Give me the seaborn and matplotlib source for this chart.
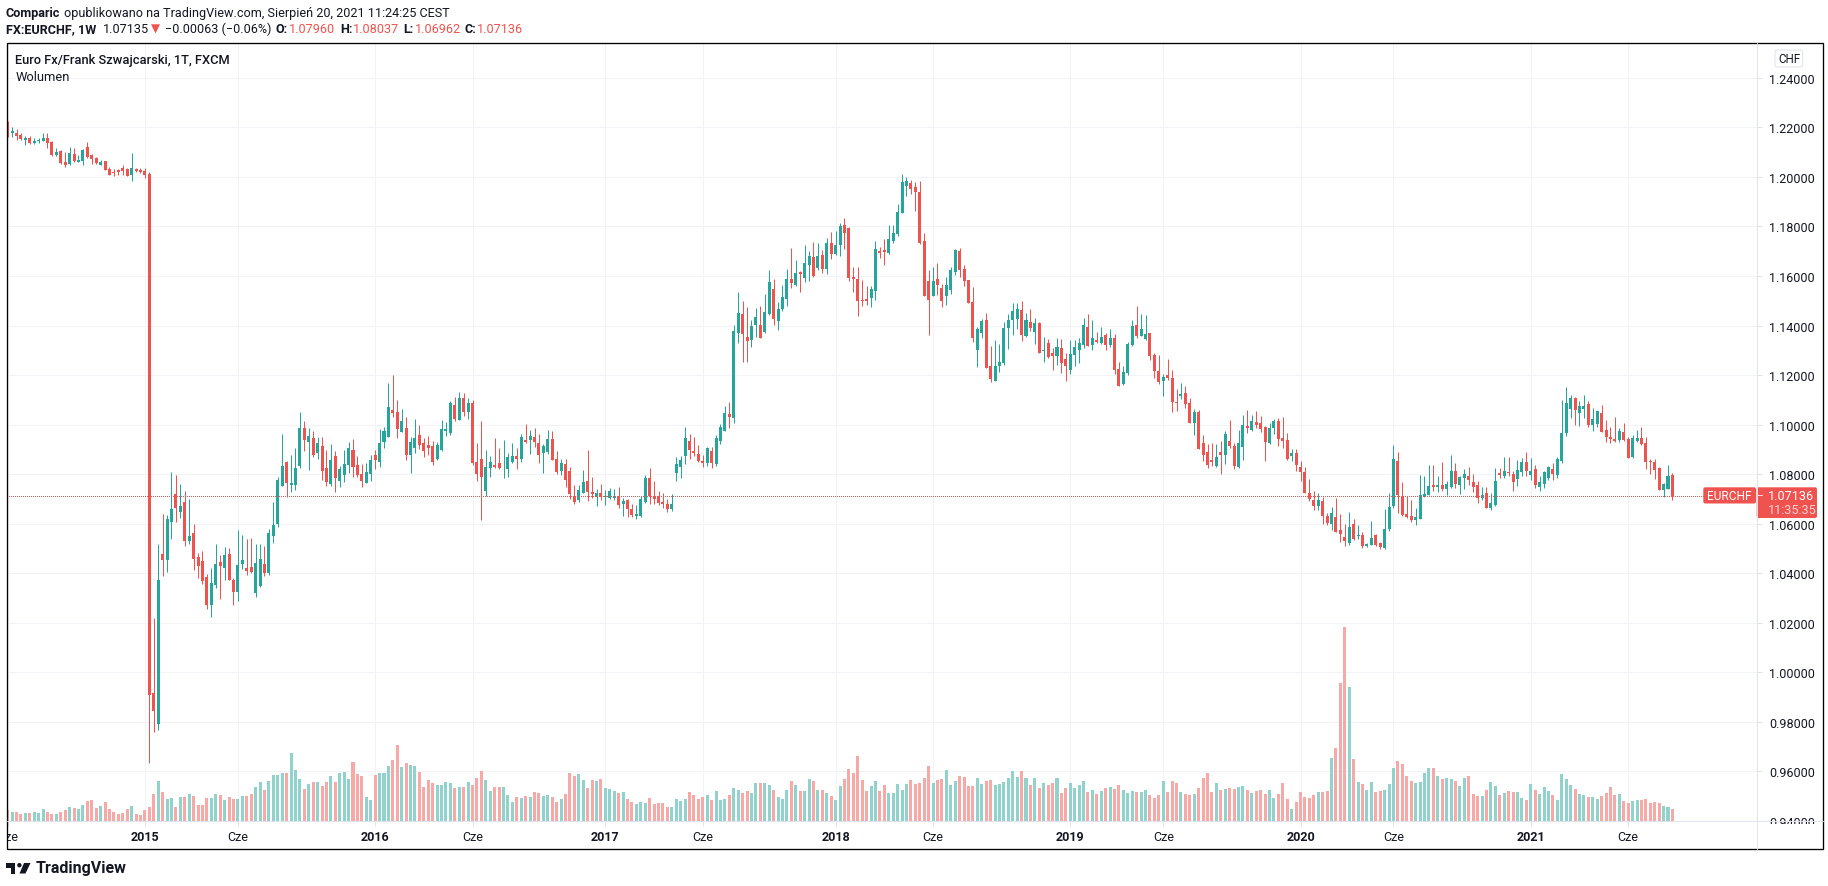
import matplotlib
matplotlib.use("Agg")
import matplotlib.pyplot as plt
from matplotlib.lines import Line2D
from matplotlib.patches import Circle, FancyBboxPatch, Polygon
from matplotlib.transforms import Bbox, IdentityTransform
import pandas as pd
import seaborn as sns

# --- Weekly EURCHF candles ---
opens = [
    1.2200, 1.2177, 1.2177, 1.2169, 1.2148, 1.2156, 1.2136, 1.2144, 1.2144, 1.2156,
    1.2140, 1.2087, 1.2103, 1.2061, 1.2050, 1.2091, 1.2059, 1.2063, 1.2120, 1.2087,
    1.2075, 1.2046, 1.2063, 1.2030, 1.2018, 1.2026, 1.2034, 1.2030, 1.2006, 1.2030,
    1.2026, 1.2022,
    1.2012, 0.9916, 0.9790, 1.0479, 1.0455, 1.0606, 1.0720, 1.0646, 1.0687, 1.0532,
    1.0561, 1.0467, 1.0451, 1.0385, 1.0271, 1.0353, 1.0447, 1.0422, 1.0479, 1.0373,
    1.0324, 1.0438, 1.0422, 1.0426, 1.0320, 1.0349, 1.0438, 1.0402, 1.0549, 1.0598,
    1.0753, 1.0850, 1.0757, 1.0757, 1.0834, 1.0985, 1.0928, 1.0944, 1.0887, 1.0912,
    1.0826, 1.0761, 1.0875, 1.0773, 1.0797, 1.0838, 1.0899, 1.0838, 1.0802, 1.0765,
    1.0802, 1.0879, 1.0850, 1.0928, 1.0948, 1.1059, 1.1050, 1.0969, 1.0985, 1.0879,
    1.0904, 1.0957, 1.0924, 1.0916, 1.0912, 1.0863, 1.0899, 1.0973, 1.0965,
    1.1079, 1.1018, 1.1108, 1.1050, 1.1087, 1.0850, 1.0863, 1.0732, 1.0826, 1.0838,
    1.0846, 1.0827, 1.0822, 1.0850, 1.0875, 1.0863, 1.0936, 1.0936, 1.0948, 1.0924,
    1.0887, 1.0891, 1.0940, 1.0863, 1.0814, 1.0842, 1.0814, 1.0712, 1.0695, 1.0724,
    1.0773, 1.0728, 1.0708, 1.0724, 1.0708, 1.0704, 1.0704, 1.0712, 1.0679, 1.0695,
    1.0659, 1.0630, 1.0630, 1.0687, 1.0785, 1.0708, 1.0712, 1.0687, 1.0679, 1.0659,
    1.0806, 1.0830, 1.0875, 1.0932, 1.0895, 1.0883, 1.0854, 1.0846, 1.0895, 1.0842,
    1.0932, 1.0973, 1.1042, 1.1026,
    1.1369, 1.1446, 1.1353, 1.1340, 1.1402, 1.1402, 1.1373, 1.1446, 1.1548, 1.1418,
    1.1467, 1.1508, 1.1589, 1.1565, 1.1614, 1.1593, 1.1646, 1.1675, 1.1634, 1.1683,
    1.1630, 1.1732, 1.1687, 1.1724, 1.1806, 1.1793, 1.1597, 1.1589, 1.1504, 1.1508,
    1.1512, 1.1540, 1.1700, 1.1704, 1.1691, 1.1740, 1.1769, 1.1854, 1.1965, 1.1977,
    1.1961, 1.1940, 1.1740, 1.1581, 1.1520, 1.1589, 1.1553, 1.1520, 1.1544, 1.1614,
    1.1700, 1.1630, 1.1585, 1.1495, 1.1300, 1.1369, 1.1422, 1.1238, 1.1177, 1.1236,
    1.1247, 1.1389, 1.1422, 1.1426, 1.1463, 1.1357, 1.1414, 1.1373, 1.1410, 1.1296,
    1.1328,
    1.1287, 1.1275, 1.1308, 1.1263, 1.1222, 1.1279, 1.1303, 1.1320, 1.1393, 1.1320,
    1.1340, 1.1328, 1.1361, 1.1320, 1.1348, 1.1226, 1.1165, 1.1210, 1.1320, 1.1401,
    1.1356, 1.1344, 1.1369, 1.1279, 1.1218, 1.1177, 1.1201, 1.1189, 1.1091, 1.1116,
    1.1128, 1.1087, 1.1006, 1.1050, 1.0924, 1.0891, 1.0859, 1.0834, 1.0891, 1.0879,
    1.0932, 1.0912, 1.0830, 1.0908, 1.0993, 1.0977, 1.1010, 1.1006, 1.0989, 1.0924,
    1.0985, 1.1014, 1.0944, 1.0936, 1.0875, 1.0887, 1.0830, 1.0810, 1.0724, 1.0696,
    1.0671, 1.0691, 1.0630, 1.0598, 1.0626, 1.0573, 1.0545, 1.0524,
    1.0597, 1.0549, 1.0553, 1.0508, 1.0516, 1.0553, 1.0524, 1.0500, 1.0577, 1.0671,
    1.0855, 1.0708, 1.0638, 1.0630, 1.0614, 1.0618, 1.0708, 1.0716, 1.0757, 1.0748,
    1.0757, 1.0740, 1.0748, 1.0814, 1.0757, 1.0785, 1.0793, 1.0769, 1.0757, 1.0704,
    1.0724, 1.0663, 1.0675, 1.0806, 1.0793, 1.0810, 1.0802, 1.0781, 1.0810, 1.0851,
    1.0798, 1.0822, 1.0748, 1.0761, 1.0785, 1.0822, 1.0797, 1.0855, 1.0965, 1.1063,
    1.1108, 1.1046, 1.1063, 1.1083, 1.0997, 1.1001, 1.1046, 1.0977, 1.0948, 1.0940,
    1.0936, 1.0969, 1.0940, 1.0871, 1.0932, 1.0944, 1.0924, 1.0854, 1.0850, 1.0826,
    1.0736, 1.0740, 1.0796,
]
highs = [
    1.2226, 1.2201, 1.2193, 1.2177, 1.2165, 1.2165, 1.2156, 1.2156, 1.2177, 1.2177,
    1.2144, 1.2116, 1.2107, 1.2099, 1.2120, 1.2116, 1.2087, 1.2112, 1.2140, 1.2091,
    1.2079, 1.2067, 1.2063, 1.2038, 1.2030, 1.2030, 1.2046, 1.2034, 1.2095, 1.2034,
    1.2034, 1.2034,
    1.2018, 1.0219, 1.0520, 1.0638, 1.0634, 1.0810, 1.0797, 1.0761, 1.0732, 1.0700,
    1.0598, 1.0483, 1.0491, 1.0398, 1.0422, 1.0520, 1.0475, 1.0504, 1.0500, 1.0381,
    1.0573, 1.0553, 1.0540, 1.0544, 1.0520, 1.0520, 1.0508, 1.0577, 1.0687, 1.0789,
    1.0961, 1.0855, 1.0879, 1.0904, 1.1050, 1.1014, 1.0985, 1.0973, 1.0948, 1.0948,
    1.0899, 1.0920, 1.0895, 1.0834, 1.0899, 1.0928, 1.0940, 1.0875, 1.0842, 1.0846,
    1.0879, 1.0899, 1.0981, 1.0989, 1.1169, 1.1200, 1.1099, 1.1063, 1.1030, 1.0948,
    1.1022, 1.0997, 1.0944, 1.0952, 1.0932, 1.0928, 1.1018, 1.1010, 1.1094,
    1.1112, 1.1132, 1.1128, 1.1108, 1.1099, 1.0924, 1.1014, 1.0899, 1.0875, 1.0944,
    1.0904, 1.0936, 1.0887, 1.0924, 1.0904, 1.0961, 1.1001, 1.0977, 1.0985, 1.0961,
    1.0920, 1.0977, 1.0973, 1.0895, 1.0863, 1.0863, 1.0830, 1.0757, 1.0757, 1.0818,
    1.0899, 1.0789, 1.0741, 1.0761, 1.0736, 1.0744, 1.0740, 1.0748, 1.0704, 1.0700,
    1.0679, 1.0675, 1.0712, 1.0797, 1.0826, 1.0773, 1.0732, 1.0724, 1.0700, 1.0720,
    1.0871, 1.0875, 1.0989, 1.0961, 1.0948, 1.0916, 1.0879, 1.0908, 1.0908, 1.0957,
    1.1001, 1.1075, 1.1091, 1.1402,
    1.1536, 1.1500, 1.1475, 1.1422, 1.1471, 1.1479, 1.1528, 1.1622, 1.1589, 1.1495,
    1.1565, 1.1630, 1.1712, 1.1663, 1.1618, 1.1724, 1.1700, 1.1736, 1.1732, 1.1704,
    1.1752, 1.1777, 1.1781, 1.1814, 1.1834, 1.1797, 1.1638, 1.1638, 1.1585, 1.1561,
    1.1561, 1.1740, 1.1716, 1.1748, 1.1806, 1.1806, 1.1891, 1.2010, 1.2001, 1.1989,
    1.1981, 1.1985, 1.1773, 1.1626, 1.1638, 1.1654, 1.1569, 1.1597, 1.1638, 1.1708,
    1.1712, 1.1646, 1.1585, 1.1557, 1.1393, 1.1426, 1.1451, 1.1316, 1.1340, 1.1324,
    1.1414, 1.1446, 1.1491, 1.1491, 1.1500, 1.1451, 1.1467, 1.1430, 1.1414, 1.1353,
    1.1344,
    1.1308, 1.1348, 1.1344, 1.1287, 1.1340, 1.1340, 1.1348, 1.1430, 1.1446, 1.1422,
    1.1373, 1.1393, 1.1369, 1.1385, 1.1365, 1.1254, 1.1238, 1.1332, 1.1422, 1.1479,
    1.1446, 1.1442, 1.1369, 1.1291, 1.1279, 1.1206, 1.1263, 1.1222, 1.1144, 1.1169,
    1.1157, 1.1108, 1.1063, 1.1059, 1.0957, 1.0920, 1.0924, 1.0920, 1.0932, 1.0973,
    1.1018, 1.0924, 1.0977, 1.1038, 1.1059, 1.1038, 1.1055, 1.1034, 1.0993, 1.1006,
    1.1022, 1.1026, 1.1030, 1.0965, 1.0900, 1.0900, 1.0855, 1.0830, 1.0781, 1.0732,
    1.0724, 1.0708, 1.0642, 1.0667, 1.0704, 1.0638, 1.0598, 1.0647,
    1.0618, 1.0593, 1.0565, 1.0524, 1.0610, 1.0557, 1.0528, 1.0659, 1.0724, 1.0916,
    1.0891, 1.0769, 1.0710, 1.0695, 1.0663, 1.0797, 1.0793, 1.0838, 1.0838, 1.0793,
    1.0850, 1.0773, 1.0879, 1.0846, 1.0793, 1.0822, 1.0830, 1.0802, 1.0773, 1.0748,
    1.0748, 1.0724, 1.0826, 1.0826, 1.0871, 1.0871, 1.0814, 1.0859, 1.0867, 1.0891,
    1.0867, 1.0838, 1.0793, 1.0814, 1.0834, 1.0846, 1.0871, 1.1099, 1.1152, 1.1120,
    1.1112, 1.1095, 1.1120, 1.1095, 1.1067, 1.1054, 1.1079, 1.1018, 1.0989, 1.1030,
    1.0985, 1.1006, 1.0948, 1.0957, 1.0977, 1.0989, 1.0948, 1.0863, 1.0863, 1.0830,
    1.0765, 1.0838, 1.0804,
]
lows = [
    1.2162, 1.2162, 1.2148, 1.2148, 1.2128, 1.2132, 1.2132, 1.2136, 1.2144, 1.2116,
    1.2083, 1.2083, 1.2050, 1.2038, 1.2046, 1.2059, 1.2059, 1.2046, 1.2075, 1.2050,
    1.2050, 1.2046, 1.2026, 1.2006, 1.2003, 1.2006, 1.2006, 1.2003, 1.1985, 1.2018,
    1.2014, 1.1997,
    0.9635, 0.9761, 0.9769, 1.0389, 1.0406, 1.0540, 1.0606, 1.0622, 1.0508, 1.0520,
    1.0414, 1.0381, 1.0357, 1.0255, 1.0222, 1.0340, 1.0296, 1.0373, 1.0373, 1.0271,
    1.0287, 1.0418, 1.0394, 1.0402, 1.0304, 1.0345, 1.0389, 1.0394, 1.0524, 1.0585,
    1.0753, 1.0708, 1.0728, 1.0736, 1.0826, 1.0895, 1.0818, 1.0871, 1.0863, 1.0777,
    1.0753, 1.0753, 1.0728, 1.0748, 1.0769, 1.0806, 1.0789, 1.0789, 1.0748, 1.0765,
    1.0773, 1.0822, 1.0830, 1.0904, 1.0948, 1.1030, 1.0944, 1.0969, 1.0859, 1.0806,
    1.0887, 1.0900, 1.0871, 1.0879, 1.0838, 1.0859, 1.0895, 1.0952, 1.0957,
    1.1014, 1.1018, 1.1034, 1.1022, 1.0838, 1.0773, 1.0614, 1.0712, 1.0789, 1.0826,
    1.0822, 1.0785, 1.0789, 1.0846, 1.0822, 1.0851, 1.0924, 1.0883, 1.0908, 1.0846,
    1.0806, 1.0883, 1.0859, 1.0802, 1.0797, 1.0748, 1.0700, 1.0679, 1.0687, 1.0724,
    1.0691, 1.0704, 1.0671, 1.0695, 1.0675, 1.0700, 1.0695, 1.0663, 1.0630, 1.0626,
    1.0626, 1.0617, 1.0626, 1.0683, 1.0679, 1.0679, 1.0675, 1.0663, 1.0646, 1.0650,
    1.0773, 1.0785, 1.0842, 1.0863, 1.0875, 1.0850, 1.0830, 1.0834, 1.0826, 1.0834,
    1.0920, 1.0973, 1.0985, 1.1006,
    1.1328, 1.1251, 1.1251, 1.1312, 1.1353, 1.1349, 1.1369, 1.1442, 1.1402, 1.1381,
    1.1459, 1.1479, 1.1553, 1.1561, 1.1536, 1.1577, 1.1581, 1.1597, 1.1622, 1.1610,
    1.1606, 1.1667, 1.1683, 1.1679, 1.1708, 1.1581, 1.1536, 1.1438, 1.1479, 1.1483,
    1.1475, 1.1504, 1.1671, 1.1646, 1.1687, 1.1732, 1.1761, 1.1854, 1.1924, 1.1932,
    1.1863, 1.1728, 1.1520, 1.1361, 1.1520, 1.1524, 1.1475, 1.1483, 1.1528, 1.1602,
    1.1597, 1.1561, 1.1491, 1.1332, 1.1234, 1.1349, 1.1230, 1.1173, 1.1177, 1.1214,
    1.1242, 1.1304, 1.1361, 1.1385, 1.1336, 1.1353, 1.1377, 1.1324, 1.1287, 1.1251,
    1.1267,
    1.1222, 1.1242, 1.1210, 1.1177, 1.1206, 1.1238, 1.1250, 1.1308, 1.1316, 1.1303,
    1.1328, 1.1324, 1.1303, 1.1312, 1.1206, 1.1157, 1.1161, 1.1201, 1.1316, 1.1348,
    1.1356, 1.1340, 1.1259, 1.1189, 1.1165, 1.1116, 1.1181, 1.1050, 1.1054, 1.1104,
    1.1067, 1.1006, 1.0957, 1.0900, 1.0855, 1.0826, 1.0834, 1.0830, 1.0802, 1.0842,
    1.0904, 1.0822, 1.0826, 1.0859, 1.0965, 1.0973, 1.0985, 1.0969, 1.0855, 1.0920,
    1.0961, 1.0912, 1.0904, 1.0859, 1.0855, 1.0814, 1.0773, 1.0724, 1.0691, 1.0655,
    1.0655, 1.0598, 1.0594, 1.0573, 1.0565, 1.0528, 1.0512, 1.0516,
    1.0536, 1.0540, 1.0500, 1.0504, 1.0516, 1.0508, 1.0496, 1.0496, 1.0569, 1.0663,
    1.0642, 1.0630, 1.0622, 1.0606, 1.0593, 1.0618, 1.0708, 1.0716, 1.0732, 1.0728,
    1.0732, 1.0716, 1.0744, 1.0744, 1.0720, 1.0740, 1.0757, 1.0728, 1.0683, 1.0695,
    1.0663, 1.0655, 1.0671, 1.0785, 1.0785, 1.0793, 1.0732, 1.0753, 1.0793, 1.0793,
    1.0777, 1.0744, 1.0732, 1.0744, 1.0777, 1.0777, 1.0785, 1.0846, 1.0952, 1.1026,
    1.0997, 1.0994, 1.1026, 1.0989, 1.0973, 1.0989, 1.0969, 1.0928, 1.0924, 1.0928,
    1.0928, 1.0932, 1.0867, 1.0867, 1.0928, 1.0916, 1.0822, 1.0801, 1.0781, 1.0736,
    1.0708, 1.0740, 1.0696,
]
closes = [
    1.2162, 1.2185, 1.2165, 1.2152, 1.2156, 1.2136, 1.2144, 1.2148, 1.2156, 1.2136,
    1.2087, 1.2099, 1.2054, 1.2046, 1.2095, 1.2063, 1.2067, 1.2107, 1.2079, 1.2071,
    1.2054, 1.2058, 1.2026, 1.2006, 1.2014, 1.2018, 1.2022, 1.2003, 1.2034, 1.2022,
    1.2018, 1.2006,
    0.9909, 0.9843, 1.0373, 1.0455, 1.0618, 1.0659, 1.0663, 1.0671, 1.0532, 1.0549,
    1.0459, 1.0430, 1.0369, 1.0271, 1.0361, 1.0438, 1.0430, 1.0475, 1.0373, 1.0324,
    1.0434, 1.0455, 1.0410, 1.0406, 1.0442, 1.0459, 1.0402, 1.0561, 1.0593, 1.0777,
    1.0834, 1.0765, 1.0765, 1.0826, 1.0985, 1.0936, 1.0952, 1.0879, 1.0924, 1.0814,
    1.0769, 1.0859, 1.0785, 1.0822, 1.0842, 1.0904, 1.0830, 1.0797, 1.0773, 1.0810,
    1.0859, 1.0859, 1.0924, 1.0973, 1.1071, 1.1046, 1.0981, 1.1014, 1.0879, 1.0928,
    1.0944, 1.0916, 1.0895, 1.0904, 1.0850, 1.0916, 1.0981, 1.0981, 1.1087,
    1.1022, 1.1108, 1.1050, 1.1087, 1.0846, 1.0802, 1.0789, 1.0830, 1.0850, 1.0830,
    1.0826, 1.0830, 1.0871, 1.0875, 1.0863, 1.0948, 1.0928, 1.0952, 1.0928, 1.0879,
    1.0912, 1.0940, 1.0859, 1.0810, 1.0846, 1.0777, 1.0720, 1.0687, 1.0736, 1.0769,
    1.0728, 1.0720, 1.0724, 1.0708, 1.0712, 1.0732, 1.0712, 1.0675, 1.0691, 1.0659,
    1.0634, 1.0638, 1.0700, 1.0785, 1.0712, 1.0700, 1.0683, 1.0679, 1.0659, 1.0679,
    1.0842, 1.0859, 1.0944, 1.0899, 1.0887, 1.0854, 1.0846, 1.0904, 1.0846, 1.0944,
    1.0989, 1.1046, 1.1030, 1.1377,
    1.1450, 1.1365, 1.1336, 1.1398, 1.1434, 1.1349, 1.1455, 1.1577, 1.1426, 1.1467,
    1.1516, 1.1589, 1.1573, 1.1610, 1.1606, 1.1654, 1.1679, 1.1601, 1.1679, 1.1630,
    1.1732, 1.1687, 1.1724, 1.1801, 1.1773, 1.1593, 1.1589, 1.1500, 1.1500, 1.1500,
    1.1548, 1.1708, 1.1691, 1.1695, 1.1748, 1.1773, 1.1859, 1.1981, 1.1985, 1.1952,
    1.1940, 1.1732, 1.1520, 1.1504, 1.1581, 1.1565, 1.1500, 1.1565, 1.1622, 1.1704,
    1.1626, 1.1581, 1.1491, 1.1349, 1.1385, 1.1418, 1.1230, 1.1185, 1.1238, 1.1251,
    1.1389, 1.1422, 1.1459, 1.1467, 1.1361, 1.1422, 1.1389, 1.1410, 1.1291, 1.1300,
    1.1271,
    1.1275, 1.1312, 1.1250, 1.1238, 1.1283, 1.1312, 1.1328, 1.1401, 1.1316, 1.1348,
    1.1332, 1.1352, 1.1320, 1.1348, 1.1222, 1.1157, 1.1214, 1.1324, 1.1397, 1.1356,
    1.1385, 1.1365, 1.1275, 1.1218, 1.1173, 1.1193, 1.1189, 1.1091, 1.1087, 1.1124,
    1.1083, 1.1006, 1.1050, 1.0900, 1.0879, 1.0838, 1.0851, 1.0871, 1.0879, 1.0961,
    1.0912, 1.0834, 1.0924, 1.0997, 1.0985, 1.1014, 1.0997, 1.0981, 1.0928, 1.0985,
    1.1014, 1.0940, 1.0932, 1.0863, 1.0887, 1.0838, 1.0810, 1.0724, 1.0700, 1.0671,
    1.0696, 1.0630, 1.0602, 1.0642, 1.0565, 1.0557, 1.0532, 1.0585,
    1.0540, 1.0553, 1.0508, 1.0520, 1.0544, 1.0516, 1.0504, 1.0577, 1.0667, 1.0863,
    1.0716, 1.0634, 1.0626, 1.0614, 1.0626, 1.0716, 1.0720, 1.0753, 1.0748, 1.0757,
    1.0740, 1.0761, 1.0814, 1.0761, 1.0789, 1.0802, 1.0777, 1.0748, 1.0704, 1.0716,
    1.0663, 1.0683, 1.0773, 1.0797, 1.0814, 1.0806, 1.0769, 1.0818, 1.0851, 1.0814,
    1.0814, 1.0757, 1.0769, 1.0810, 1.0830, 1.0802, 1.0863, 1.0965, 1.1087, 1.1108,
    1.1059, 1.1075, 1.1075, 1.0997, 1.1022, 1.1054, 1.0969, 1.0948, 1.0940, 1.0932,
    1.0973, 1.0936, 1.0867, 1.0944, 1.0944, 1.0920, 1.0850, 1.0850, 1.0818, 1.0736,
    1.0761, 1.0793, 1.07136,
]
# volume in arbitrary units (the chart has no volume scale)
volumes = [
    33, 27, 27, 21, 24, 24, 27, 24, 36, 27, 21, 21, 27, 33, 42, 39, 36, 48, 60, 63,
    39, 45, 57, 36, 27, 21, 24, 36, 45, 21, 18, 33, 42, 81, 120, 87, 66, 69, 42, 72,
    72, 81, 75, 48, 48, 69, 69, 81, 78, 63, 72, 66, 66, 75, 75, 81, 102, 117, 93, 120,
    138, 138, 144, 144, 204, 153, 126, 96, 111, 117, 117, 105, 117, 135, 117, 144, 147, 126, 177, 141,
    135, 72, 63, 138, 144, 144, 165, 183, 228, 162, 174, 168, 165, 147, 102, 123, 114, 108, 108, 117,
    114, 99, 102, 102, 117, 108, 129, 150, 123, 90, 102, 102, 102, 78, 57, 72, 69, 75, 72, 87,
    84, 75, 78, 72, 57, 66, 81, 144, 135, 141, 123, 99, 123, 120, 126, 99, 96, 90, 84,
    87, 66, 57, 51, 57, 54, 69, 51, 54, 54, 42, 42, 66, 60, 66, 87, 78, 66, 72, 78,
    63, 90, 63, 66, 78, 99, 93, 84, 90, 84, 114, 114, 114, 108, 93, 72, 66, 93, 120, 108,
    90, 90, 126, 120, 93, 93, 84, 75, 63, 105, 126, 156, 144, 195, 123, 90, 105, 120, 90, 108,
    84, 84, 111, 93, 111, 123, 111, 114, 129, 165, 114, 123, 126, 153, 108, 120, 135, 132, 105, 105,
    129, 111, 120, 123, 108, 111, 117, 129, 150, 132, 150, 129, 108, 129, 99, 114, 108, 114, 129, 84,
    99, 114, 99, 108, 120, 87, 93, 81, 90, 99, 102, 96, 108, 93, 84, 90, 87, 87, 93, 78,
    69, 78, 120, 87, 120, 114, 87, 81, 78, 81, 99, 129, 144, 87, 114, 93,
    95, 98, 95, 101, 104, 92, 83, 89, 92, 80, 92, 68, 80, 113, 65, 35, 56, 86, 71, 68,
    77, 86, 86, 89, 188, 218, 413, 581, 401, 185, 116, 110, 92, 116, 86, 89, 92, 110, 158, 179,
    170, 134, 119, 113, 116, 143, 158, 158, 134, 125, 128, 125, 119, 104, 128, 134, 80, 74, 74, 92,
    116, 104, 77, 83, 89, 86, 86, 68, 62, 110, 92, 80, 101, 89, 77, 62, 140, 125, 107, 95,
    80, 77, 71, 71, 65, 74, 83, 101, 77, 80, 59, 53, 59, 62, 62, 65, 53, 56, 53, 44,
    41, 35,
]

price_ticks = [0.94, 0.96, 0.98, 1.00, 1.02, 1.04, 1.06, 1.08, 1.10, 1.12, 1.14, 1.16, 1.18, 1.20, 1.22, 1.24]
time_ticks = [0, 31, 52, 83, 105, 135, 157, 187, 209, 240, 261, 292, 313, 344, 366]
time_labels = ["Cze", "2015", "Cze", "2016", "Cze", "2017", "Cze", "2018", "Cze", "2019", "Cze", "2020", "Cze", "2021", "Cze"]
last_price = 1.07136

# --- Configuration ---
W, H = 1828, 887
GREEN = "#26a69a"
RED = "#ef5350"
VOL_GREEN = "#92d2cc"
VOL_RED = "#f7a9a7"
GRID = "#f1f3f6"
AXIS = "#e0e3eb"
INK = "#131722"
FONT = ["Roboto", "DejaVu Sans"]
PX = 0.72  # one pixel in points at dpi 100

sns.set_theme(style="white")
plt.rcParams["font.family"] = FONT

df = pd.DataFrame({"open": opens, "high": highs, "low": lows, "close": closes, "volume": volumes})
df["week"] = df.index
df["direction"] = ["up" if c >= o else "down" for o, c in zip(df["open"], df["close"])]
up = df["direction"] == "up"
colors = [GREEN if u else RED for u in up]


def label(x, y, s, **kw):
    kw.setdefault("color", INK)
    kw.setdefault("fontsize", 9.05)
    kw.setdefault("va", "center")
    return fig.text(x / W, 1 - y / H, s, **kw)


def box(x0, y0, x1, y1, **kw):
    p = FancyBboxPatch((x0, H - y1), x1 - x0, y1 - y0, boxstyle="round,pad=0,rounding_size=2",
                       transform=IdentityTransform(), **kw)
    fig.add_artist(p)


fig = plt.figure(figsize=(W / 100, H / 100), dpi=100, facecolor="white")
left, right, top, bottom = 6.5, 1757, 44, 822
rect = [left / W, 1 - bottom / H, (right - left) / W, (bottom - top) / H]

# back axes: price scale and grid
ax = fig.add_axes(rect)
ax.set_xlim(-0.26, 395.1)
ax.set_ylim(0.94, 0.94 + (bottom - top) * 0.02 / 49.55)

# volume pane, one unit is a third of a pixel
vol_ax = ax.twinx()
sns.barplot(data=df, x="week", y="volume", hue="direction", palette={"up": VOL_GREEN, "down": VOL_RED},
            native_scale=True, dodge=False, width=0.68, saturation=1, legend=False, linewidth=0, ax=vol_ax)
vol_ax.set_ylim(0, (bottom - top) * 3)
vol_ax.set_axis_off()

# candles
candle_ax = ax.twinx()
candle_ax.set_ylim(ax.get_ylim())
candle_ax.vlines(df["week"], df["low"], df["high"], colors=colors, linewidth=1 * PX)
candle_ax.bar(df["week"], (df["close"] - df["open"]).abs().clip(lower=0.0002), bottom=df[["open", "close"]].min(axis=1),
              width=0.68, color=colors, linewidth=0)
candle_ax.plot([-0.26, 395.1], [last_price, last_price], color=RED, linewidth=1 * PX,
               linestyle=(0, (1, 2)), antialiased=False, dash_capstyle="butt", scalex=False, scaley=False)
candle_ax.set_axis_off()

ax.set_xlim(-0.26, 395.1)
ax.set_yticks(price_ticks)
ax.set_yticklabels([f"{p:.5f}" for p in price_ticks])
ax.yaxis.tick_right()
ax.set_xticks(time_ticks)
ax.set_xticklabels(time_labels)
ax.grid(True, color=GRID, linewidth=1 * PX)
ax.set_axisbelow(True)
ax.set_xlabel("")
ax.set_ylabel("")
for s in ax.spines.values():
    s.set_visible(False)
ax.tick_params(axis="y", length=5 * PX, width=PX, color=AXIS, pad=7 * PX, labelsize=9, labelcolor=INK, right=True, left=False)
ax.tick_params(axis="x", length=5 * PX, width=PX, color=AXIS, pad=4 * PX, labelsize=9, labelcolor=INK, bottom=True)

# axis labels stop at the edges of their panes
clip_y = Bbox.from_extents(right, H - 825, W, H - top)
clip_x = Bbox.from_extents(left, H - 850, right, H - bottom)
for t in ax.get_yticklabels():
    t.set_clip_on(True)
    t.set_clip_box(clip_y)
for t in ax.get_xticklabels():
    t.set_clip_on(True)
    t.set_clip_box(clip_x)
    if t.get_text().isdigit():
        t.set_fontweight("bold")

# frame and pane borders
fig.add_artist(Line2D([right / W, right / W], [1 - 850 / H, 1 - top / H], color=AXIS, linewidth=PX))
fig.add_artist(Line2D([left / W, 1823 / W], [1 - bottom / H, 1 - bottom / H], color=AXIS, linewidth=PX))
fig.add_artist(plt.Rectangle((left, H - 850), 1823 - left, 850 - top, fill=False, edgecolor="black",
                             linewidth=0.95, transform=IdentityTransform()))

# header
label(6, 13, "Comparic", fontweight="bold")
label(64, 13, "opublikowano na TradingView.com, Sierpień 20, 2021 11:24:25 CEST")
label(6, 29.5, "FX:EURCHF, 1W", fontweight="bold")
label(102.5, 29.5, "1.07135")
label(151, 29.5, "▼", color=RED, family=["DejaVu Sans"], fontsize=8.5)
label(165, 29.5, "−0.00063 (−0.06%)")
for x_name, name, x_val, val in [(275.5, "O:", 289.3, "1.07960"), (339.8, "H:", 353.2, "1.08037"),
                                 (403.7, "L:", 414.5, "1.06962"), (464.2, "C:", 476.5, "1.07136")]:
    label(x_name, 29.5, name, fontweight="bold")
    label(x_val, 29.5, val, color=RED)

# legend in the pane
label(15.3, 60.7, "Euro Fx/Frank Szwajcarski, 1T, FXCM", fontweight="medium", fontsize=9.25)
label(15.3, 77.7, "Wolumen", fontsize=9.25)

# currency button and last price tags
box(1775, 51, 1802.7, 68, facecolor="white", edgecolor=AXIS, linewidth=PX)
label(1789, 59.5, "CHF", ha="center", fontsize=8.4)
box(1703.3, 488.3, 1756, 504.5, facecolor=RED, edgecolor="none")
box(1756.7, 488.3, 1817, 519, facecolor=RED, edgecolor="none")
label(1729.5, 496.4, "EURCHF", ha="center", color="white", fontsize=8.6)
label(1767.5, 496.4, "1.07136", color="white")
label(1767.5, 510.8, "11:35:35", color="#fbd4d3")
fig.add_artist(Line2D([1757 / W, 1762 / W], [1 - 496.4 / H] * 2, color="#fbd4d3", linewidth=PX))

# TradingView mark
for pts in [[(6, 864), (15, 864), (15, 874.5), (10.5, 874.5), (10.5, 868.5), (6, 868.5)],
            [(24, 864), (30.5, 864), (25.5, 874.5), (19.5, 874.5)]]:
    fig.add_artist(Polygon([(x, H - y) for x, y in pts], closed=True, facecolor=INK, edgecolor="none",
                           transform=IdentityTransform()))
fig.add_artist(Circle((19.4, H - 866.2), 2.2, facecolor=INK, edgecolor="none", transform=IdentityTransform()))
label(36, 869, "TradingView", fontsize=11.5, fontweight="bold")

assert len(opens) == len(highs) == len(lows) == len(closes) == len(volumes) == 377, (
    len(opens), len(highs), len(lows), len(closes), len(volumes))

fig.savefig("out.png", dpi=100)
